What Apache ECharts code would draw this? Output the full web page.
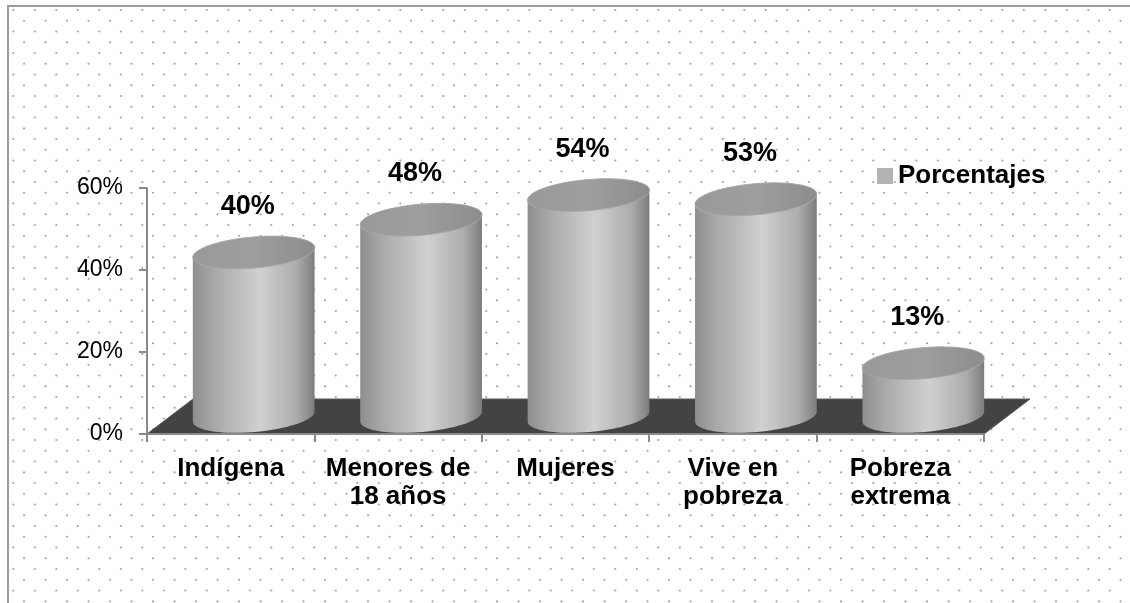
<!DOCTYPE html>
<html>
<head>
<meta charset="utf-8">
<script src="https://cdn.jsdelivr.net/npm/echarts@6/dist/echarts.min.js"></script>
<style>
  html, body { margin: 0; padding: 0; background: #fff; }
  #chart { width: 1130px; height: 603px; }
</style>
</head>
<body>
<div id="chart"></div>
<script>
const categories = ['Indígena', 'Menores de\n18 años', 'Mujeres', 'Vive en\npobreza', 'Pobreza\nextrema']
const porcentajes = [40, 48, 54, 53, 13]
const seriesName = 'Porcentajes'
const yMin = 0
const yMax = 60
const yStep = 20

// depth of the 3d floor, in pixels
const DEPTH_X = 46
const DEPTH_Y = -35
const TILT = -5 * Math.PI / 180

// dotted background tile
const makeDots = () => {
  const size = 43
  const c = document.createElement('canvas')
  c.width = size
  c.height = size
  const ctx = c.getContext('2d')
  ctx.fillStyle = '#a4a4a4'
  for (let r = 0; r < 4; r++) {
    for (let k = 0; k < 2; k++) {
      const x = (13.3 + (r % 2) * 10.75 + 21.5 * k) % size
      const y = (10 + 10.75 * r) % size
      for (const ox of [-size, 0, size]) {
        for (const oy of [-size, 0, size]) {
          ctx.beginPath()
          ctx.arc(x + ox, y + oy, 1.1, 0, Math.PI * 2)
          ctx.fill()
        }
      }
    }
  }
  return c
}

const ellipsePoint = (cx, cy, rx, ry, t) => {
  const ex = rx * Math.cos(t)
  const ey = ry * Math.sin(t)
  return [
    cx + ex * Math.cos(TILT) - ey * Math.sin(TILT),
    cy + ex * Math.sin(TILT) + ey * Math.cos(TILT)
  ]
}

const renderFloor = (params, api) => {
  const cs = params.coordSys
  const y0 = cs.y + cs.height
  return {
    type: 'polygon',
    shape: {
      points: [
        [cs.x, y0],
        [cs.x + cs.width, y0],
        [cs.x + cs.width + DEPTH_X, y0 + DEPTH_Y],
        [cs.x + DEPTH_X, y0 + DEPTH_Y]
      ]
    },
    style: { fill: '#434343', stroke: '#5a5a5a', lineWidth: 1 }
  }
}

const renderCylinder = (params, api) => {
  const cat = api.value(0)
  const v = api.value(1)
  const base = api.coord([cat, 0])
  const top = api.coord([cat, v])
  const band = api.size([1, 0])[0]
  const cx = base[0] + DEPTH_X / 2
  const by = base[1] + DEPTH_Y / 2
  const ty = top[1] + DEPTH_Y / 2
  const rx = band * 0.365
  const ry = 15.5
  const n = 40

  const body = []
  for (let i = 0; i <= n; i++) body.push(ellipsePoint(cx, by, rx, ry, Math.PI - Math.PI * i / n))
  for (let i = 0; i <= n; i++) body.push(ellipsePoint(cx, ty, rx, ry, -Math.PI * i / n))
  const cap = []
  for (let i = 0; i < n * 2; i++) cap.push(ellipsePoint(cx, ty, rx, ry, Math.PI * i / n))

  return {
    type: 'group',
    children: [
      {
        type: 'polygon',
        shape: { points: body },
        style: {
          fill: new echarts.graphic.LinearGradient(0, 0, 1, 0, [
            { offset: 0, color: '#8e8e8e' },
            { offset: 0.18, color: '#a9a9a9' },
            { offset: 0.55, color: '#d0d0d0' },
            { offset: 0.85, color: '#adadad' },
            { offset: 1, color: '#7c7c7c' }
          ])
        }
      },
      {
        type: 'polygon',
        shape: { points: cap },
        style: {
          fill: new echarts.graphic.LinearGradient(0, 0, 1, 0, [
            { offset: 0, color: '#999999' },
            { offset: 0.5, color: '#9e9e9e' },
            { offset: 1, color: '#8c8c8c' }
          ]),
          stroke: '#a8a8a8',
          lineWidth: 1
        }
      },
      {
        type: 'text',
        style: {
          text: v + '%',
          x: cx - 6,
          y: ty - 46,
          align: 'center',
          verticalAlign: 'middle',
          font: 'bold 27px "Liberation Sans", Arial, sans-serif',
          fill: '#000'
        }
      }
    ]
  }
}

const chart = echarts.init(document.getElementById('chart'))

chart.setOption({
  animation: false,
  backgroundColor: '#fff',
  graphic: [
    {
      type: 'rect',
      z: -10,
      silent: true,
      shape: { x: 8, y: 6, width: 1140, height: 620 },
      style: { fill: { image: makeDots(), repeat: 'repeat' }, stroke: '#9a9a9a', lineWidth: 2 }
    }
  ],
  legend: {
    data: [seriesName],
    left: 877,
    top: 163,
    padding: 0,
    icon: 'rect',
    itemWidth: 16,
    itemHeight: 16,
    itemGap: 5,
    textStyle: { fontFamily: 'Liberation Sans', fontWeight: 'bold', fontSize: 26, color: '#000' }
  },
  grid: {
    left: 147,
    right: 146,
    top: 188,
    bottom: 169,
    containLabel: false
  },
  xAxis: {
    type: 'category',
    data: categories,
    z: 5,
    axisLine: { lineStyle: { color: '#8a8a8a', width: 2 } },
    axisTick: { show: true, length: 8, interval: 0, lineStyle: { color: '#8a8a8a', width: 2 } },
    axisLabel: {
      interval: 0,
      margin: 21,
      fontFamily: 'Liberation Sans',
      fontWeight: 'bold',
      fontSize: 26,
      lineHeight: 28,
      color: '#000'
    }
  },
  yAxis: {
    type: 'value',
    min: yMin,
    max: yMax,
    interval: yStep,
    axisLine: { show: true, lineStyle: { color: '#8a8a8a', width: 2 } },
    axisTick: { show: true, length: 8, lineStyle: { color: '#8a8a8a', width: 2 } },
    splitLine: { show: false },
    axisLabel: {
      margin: 24,
      formatter: '{value}%',
      fontFamily: 'Liberation Sans',
      fontSize: 23,
      color: '#000'
    }
  },
  series: [
    {
      type: 'custom',
      name: 'floor',
      z: 1,
      silent: true,
      renderItem: renderFloor,
      data: [[0, 0]]
    },
    {
      type: 'custom',
      name: seriesName,
      z: 2,
      itemStyle: { color: '#b3b3b3' },
      renderItem: renderCylinder,
      data: porcentajes.map((v, i) => [i, v])
    }
  ]
})

window.addEventListener('resize', () => chart.resize())
</script>
</body>
</html>
